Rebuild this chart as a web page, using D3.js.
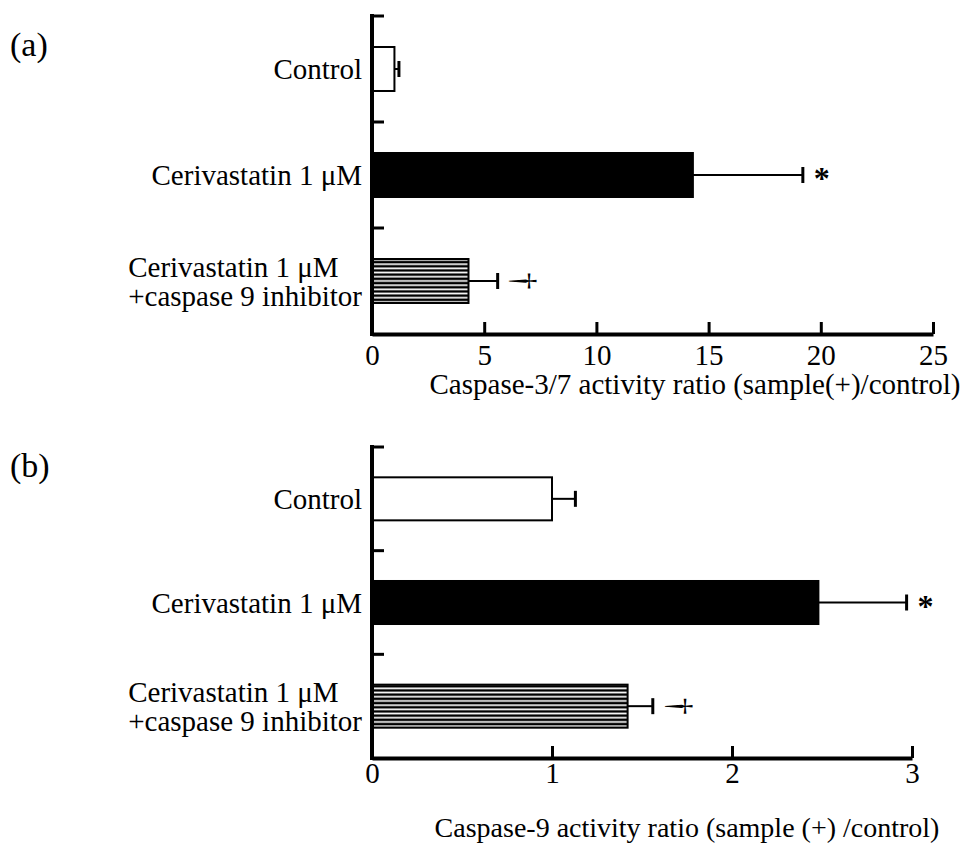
<!DOCTYPE html>
<html>
<head>
<meta charset="utf-8">
<script src="https://cdn.jsdelivr.net/npm/d3@7"></script>
<style>
  html, body { margin: 0; padding: 0; background: #fff; }
  svg { display: block; }
  svg text { font-family: "Liberation Serif", "Times New Roman", serif; fill: #000; }
</style>
</head>
<body>
<svg id="chart" width="964" height="843"></svg>
<script>
// Treatment groups (top to bottom); multi-line names split on "\n"
const categories = ["Control", "Cerivastatin 1 \u03BCM", "Cerivastatin 1 \u03BCM\n+caspase 9 inhibitor"];

// (a) Caspase-3/7 activity ratio, mean and error (SD)
const caspase37Values = [1.0, 14.3, 4.3];
const caspase37Errors = [0.2, 4.9, 1.3];
const caspase37Ticks = [0, 5, 10, 15, 20, 25];

// (b) Caspase-9 activity ratio, mean and error (SD)
const caspase9Values = [1.0, 2.48, 1.42];
const caspase9Errors = [0.13, 0.49, 0.14];
const caspase9Ticks = [0, 1, 2, 3];

// Significance marks next to each error bar
const marks = ["", "*", "\u2020"];
const fills = ["white", "black", "url(#hstripe)"];

const SERIF = "'Liberation Serif', 'Times New Roman', serif";
const FONT = 29;

const svg = d3.select("#chart");

// Horizontal stripe fill for the inhibitor group
const defs = svg.append("defs");
const pat = defs.append("pattern")
  .attr("id", "hstripe")
  .attr("patternUnits", "userSpaceOnUse")
  .attr("width", 8).attr("height", 4.2);
pat.append("rect").attr("width", 8).attr("height", 4.2).attr("fill", "white");
pat.append("rect").attr("y", 0.4).attr("width", 8).attr("height", 2.5).attr("fill", "black");

function label(g) {
  return g.append("text").attr("font-family", SERIF).attr("fill", "black");
}

function panel(opts) {
  const { tag, tagY, values, errors, ticks, domainMax, xRange, yRange,
          tickPad, caption, captionSize, captionX, captionY } = opts;
  const g = svg.append("g");

  const x = d3.scaleLinear().domain([0, domainMax]).range(xRange);
  const y = d3.scaleBand().domain(categories).range(yRange)
    .paddingInner(0.585).paddingOuter(0.2925);
  const axisY = yRange[1];
  const x0 = x(0);

  // Panel tag
  label(g).attr("x", 10).attr("y", tagY).attr("font-size", 34).text(tag);

  // Bars
  g.selectAll("rect.bar").data(values).join("rect")
    .attr("class", "bar")
    .attr("x", x0)
    .attr("y", (d, i) => y(categories[i]))
    .attr("width", d => x(d) - x0)
    .attr("height", y.bandwidth())
    .attr("fill", (d, i) => fills[i])
    .attr("stroke", "black").attr("stroke-width", 2);

  // Error bars (one-sided, to the right)
  const cy = i => y(categories[i]) + y.bandwidth() / 2;
  g.selectAll("line.err").data(values).join("line")
    .attr("x1", d => x(d)).attr("x2", (d, i) => x(d + errors[i]))
    .attr("y1", (d, i) => cy(i)).attr("y2", (d, i) => cy(i))
    .attr("stroke", "black").attr("stroke-width", 2);
  g.selectAll("line.cap").data(values).join("line")
    .attr("x1", (d, i) => x(d + errors[i])).attr("x2", (d, i) => x(d + errors[i]))
    .attr("y1", (d, i) => cy(i) - 8).attr("y2", (d, i) => cy(i) + 8)
    .attr("stroke", "black").attr("stroke-width", 3);

  // Significance marks
  values.forEach((d, i) => {
    const mx = x(d + errors[i]);
    if (marks[i] === "*") {
      label(g).attr("x", mx + 11).attr("y", cy(i) + 14)
        .attr("font-size", 32).attr("font-weight", "bold").text("*");
    } else if (marks[i]) {
      label(g)
        .attr("transform", `translate(${mx + 27},${cy(i)}) rotate(90)`)
        .attr("text-anchor", "middle").attr("dy", "0.33em")
        .attr("font-size", 34).text(marks[i]);
    }
  });

  // Category labels
  categories.forEach((c, i) => {
    const lines = c.split("\n");
    if (lines.length === 1) {
      label(g).attr("font-size", FONT)
        .attr("x", x0 - 10).attr("y", cy(i)).attr("dy", "0.35em")
        .attr("text-anchor", "end").text(c);
    } else {
      // block of lines, right edge at the axis, lines left-aligned
      const widths = lines.map(s => {
        const tmp = label(g).attr("font-size", FONT).text(s);
        const w = tmp.node().getComputedTextLength();
        tmp.remove();
        return w;
      });
      const left = x0 - 10 - d3.max(widths);
      const lh = 29;
      lines.forEach((s, k) => {
        label(g).attr("font-size", FONT).attr("x", left)
          .attr("y", cy(i) + (k - (lines.length - 1) / 2) * lh)
          .attr("dy", "0.35em").text(s);
      });
    }
  });

  // Value axis along the bottom, ticks pointing up
  const xAxis = d3.axisBottom(x).tickValues(ticks)
    .tickSizeInner(-12).tickSizeOuter(0).tickPadding(tickPad)
    .tickFormat(d3.format("d"));
  const ax = g.append("g").attr("transform", `translate(0,${axisY})`).call(xAxis);
  ax.attr("font-family", SERIF).attr("font-size", FONT);
  ax.select(".domain").attr("stroke", "black").attr("stroke-width", 4);
  ax.selectAll(".tick line").attr("stroke", "black").attr("stroke-width", 3)
    .filter(d => d === 0).remove();
  ax.selectAll(".tick text").attr("font-size", FONT)
    .attr("font-family", SERIF).attr("fill", "black");

  // Category axis: vertical line with ticks at the group boundaries
  g.append("line").attr("x1", x0).attr("x2", x0)
    .attr("y1", yRange[0] - 2).attr("y2", axisY + 2)
    .attr("stroke", "black").attr("stroke-width", 4);
  const step = y.step();
  d3.range(categories.length).forEach(k => {
    const ty = yRange[0] + k * step;
    g.append("line").attr("x1", x0).attr("x2", x0 + 12)
      .attr("y1", ty).attr("y2", ty)
      .attr("stroke", "black").attr("stroke-width", 3);
  });

  // Axis caption
  label(g).attr("x", captionX).attr("y", captionY)
    .attr("dy", "0.35em").attr("text-anchor", "middle")
    .attr("font-size", captionSize).text(caption);
}

panel({
  tag: "(a)", tagY: 56,
  values: caspase37Values, errors: caspase37Errors, ticks: caspase37Ticks,
  domainMax: 25, xRange: [372, 933], yRange: [16, 334], tickPad: 10,
  caption: "Caspase-3/7 activity ratio (sample(+)/control)", captionSize: 29,
  captionX: 695, captionY: 384
});

panel({
  tag: "(b)", tagY: 477,
  values: caspase9Values, errors: caspase9Errors, ticks: caspase9Ticks,
  domainMax: 3, xRange: [372, 912], yRange: [447, 758], tickPad: 4,
  caption: "Caspase-9 activity ratio (sample (+) /control)", captionSize: 28,
  captionX: 687, captionY: 827
});
</script>
</body>
</html>
